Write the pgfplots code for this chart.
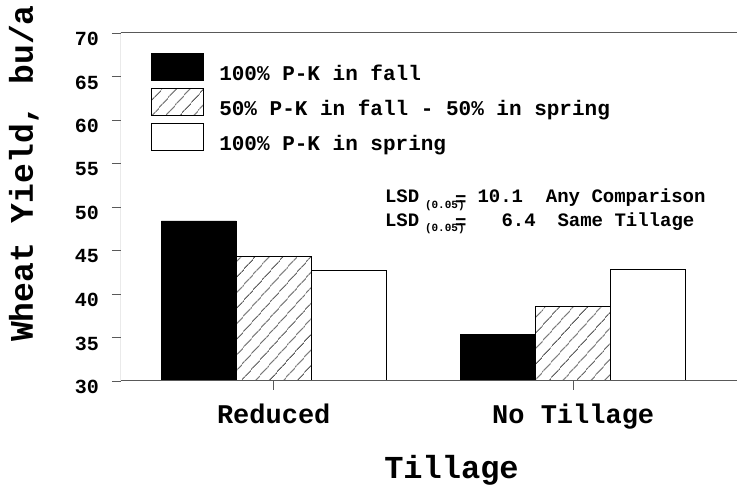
\documentclass[border=0pt]{standalone}
\usepackage{pgfplots}
\pgfplotsset{compat=1.18}
\usepackage{fontspec}
\setmainfont{Liberation Mono}
\usetikzlibrary{patterns.meta}
\definecolor{axgray}{gray}{0.35}
\pgfplotsset{mylegend/.style={legend image code/.code={\draw[##1] (0pt,0pt) rectangle (52pt,27pt);}}}
\begin{document}
\begin{tikzpicture}
\useasboundingbox (-121pt,-106pt) rectangle (616pt,381pt);
\begin{axis}[
  at={(0pt,0pt)}, anchor=south west,
  width=616pt, height=348pt, scale only axis,
  ymin=30, ymax=70, ytick={30,35,...,70},
  xmin=-0.51, xmax=1.547,
  xtick={0,1}, xticklabels={Reduced,No Tillage},
  ybar=0pt, bar width=0.25,
  axis line style={draw=none},
  xtick pos=bottom, ytick pos=left,
  tick align=outside, major tick length=9pt,
  tick style={axgray, line width=0.8pt},
  /pgf/number format/assume math mode=true,
  yticklabel style={font=\fontsize{20}{20}\selectfont\bfseries, anchor=east, inner sep=0pt, xshift=-13pt, yshift=-6pt},
  xticklabel style={font=\fontsize{27}{27}\selectfont\bfseries, anchor=base, inner sep=0pt, yshift=-34pt},
  xlabel={Tillage},
  ylabel={Wheat Yield, bu/a},
  every axis x label/.style={at={(axis description cs:0.5365,-0.2816)}, anchor=base, font=\fontsize{32}{32}\selectfont\bfseries, inner sep=0pt},
  every axis y label/.style={at={(axis description cs:-0.1429,0.596)}, anchor=base, rotate=90, font=\fontsize{33}{33}\selectfont\bfseries, inner sep=0pt},
  legend style={at={(axis description cs:0,1)}, anchor=north west, xshift=30pt, yshift=-20.5pt,
    draw=none, fill=none, inner sep=0pt, outer sep=0pt, row sep=7pt, column sep=15.5pt,
    font=\fontsize{21}{21}\selectfont\bfseries,
    nodes={inner sep=0pt, outer sep=0pt, text depth=0pt},
    cells={anchor=base west}},
]
\addplot[draw=black, line width=0.8pt, fill=black, mylegend]
  coordinates {(0,48.4) (1,35.3)};
\addplot[draw=black, line width=0.8pt, pattern={Lines[angle=48, distance=10.5pt, line width=0.75pt]}, mylegend]
  coordinates {(0,44.3) (1,38.6)};
\addplot[draw=black, line width=0.8pt, fill=white, mylegend]
  coordinates {(0,42.7) (1,42.8)};
\legend{100\% P-K in fall, 50\% P-K in fall - 50\% in spring, 100\% P-K in spring}
\draw[axgray, line width=1pt] (rel axis cs:1,1) -- (rel axis cs:0,1) -- (rel axis cs:0,0) -- (rel axis cs:1,0);
\end{axis}
\begin{scope}[every node/.style={inner sep=0pt, outer sep=0pt, anchor=base west}]
\node[font=\fontsize{19}{19}\selectfont\bfseries] at (264pt,178pt) {LSD};
\node[font=\fontsize{11}{11}\selectfont\bfseries] at (304pt,172pt) {(0.05)};
\node[font=\fontsize{19}{19}\selectfont\bfseries] at (334pt,175.5pt) {=};
\node[font=\fontsize{19}{19}\selectfont\bfseries] at (356.5pt,178pt) {10.1\ \ Any Comparison};
\node[font=\fontsize{19}{19}\selectfont\bfseries] at (264pt,154.5pt) {LSD};
\node[font=\fontsize{11}{11}\selectfont\bfseries] at (304pt,149pt) {(0.05)};
\node[font=\fontsize{19}{19}\selectfont\bfseries] at (334pt,152.5pt) {=};
\node[font=\fontsize{19}{19}\selectfont\bfseries] at (380.5pt,154.5pt) {6.4};
\node[font=\fontsize{19}{19}\selectfont\bfseries] at (436.5pt,154.5pt) {Same Tillage};
\end{scope}
\end{tikzpicture}
\end{document}
